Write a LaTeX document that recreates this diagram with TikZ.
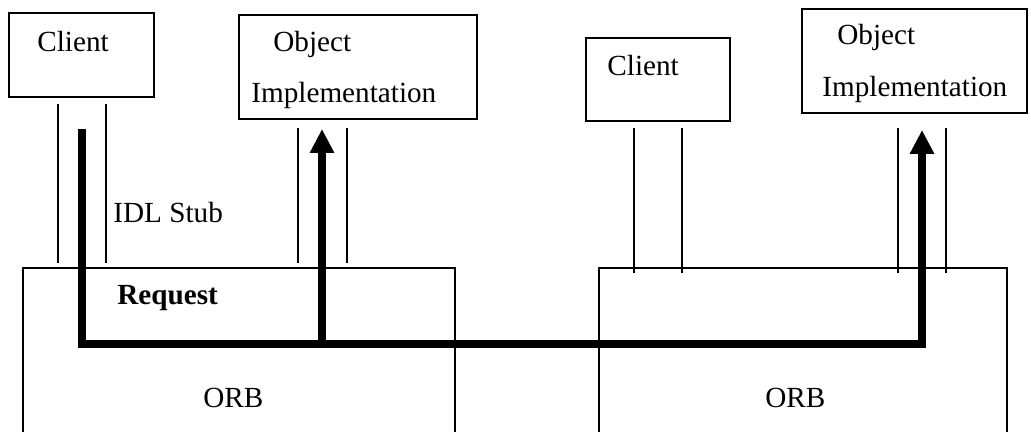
\documentclass[tikz,border=0pt]{standalone}
\usepackage{fontspec}
\setmainfont{Liberation Serif}
\usetikzlibrary{arrows.meta}
\begin{document}
\begin{tikzpicture}[x=0.5pt,y=-0.5pt,
  box/.style={draw,line width=0.65pt},
  wire/.style={line width=0.6pt},
  flow/.style={line width=4pt,line join=miter},
  label/.style={anchor=base west,inner sep=0pt,font=\fontsize{14.6}{17}\selectfont},
  tip/.style={-{Triangle[width=11.5pt,length=12pt]}}]
\useasboundingbox (0,0) rectangle (1031,432);
\clip (0,0) rectangle (1031,432);

% application boxes
\draw[box] (9,13) rectangle (154,97);
\node[label] (c1) at (37,52) {Client};
\draw[box] (239,15) rectangle (477,119);
\node[label] (o1a) at (273,52) {Object};
\node[label] (o1b) at (251,103) {Implementation};

\draw[box] (586,38) rectangle (730,121);
\node[label] (c2) at (607,76) {Client};
\draw[box] (802,9) rectangle (1027,113);
\node[label] (o2a) at (837,45) {Object};
\node[label] (o2b) at (822,97) {Implementation};

% ORB boxes (open at the bottom)
\draw[box] (23,440) -- (23,268) -- (455,268) -- (455,440);
\draw[box] (599,440) -- (599,268) -- (1007,268) -- (1007,440);
\node[label] (orb1) at (203,407) {ORB};
\node[label] (orb2) at (765,407) {ORB};

% interface stubs
\coordinate (s1t) at (58,104);  \coordinate (s1b) at (58,263);
\coordinate (s2t) at (106,104); \coordinate (s2b) at (106,263);
\coordinate (s3t) at (298,128); \coordinate (s3b) at (298,263);
\coordinate (s4t) at (347,128); \coordinate (s4b) at (347,263);
\coordinate (s5t) at (634,128); \coordinate (s5b) at (634,273);
\coordinate (s6t) at (682,128); \coordinate (s6b) at (682,273);
\coordinate (s7t) at (898,128); \coordinate (s7b) at (898,273);
\coordinate (s8t) at (946,128); \coordinate (s8b) at (946,273);
\foreach \i in {1,...,8} \draw[wire] (s\i t) -- (s\i b);

\node[label] (idl) at (113,223) {IDL Stub};
\node[label,font=\fontsize{14.6}{17}\selectfont\bfseries] (req) at (117,305) {Request};

% request path
\coordinate (r0) at (82,129);
\coordinate (r1) at (82,344);
\coordinate (r2) at (322,344);
\coordinate (r3) at (922,344);
\coordinate (a1) at (322,129);
\coordinate (a2) at (922,130);
\draw[flow,tip] (r0) -- (r1) -- (r3) -- (a2);
\draw[flow,tip] (r2) -- (a1);
\end{tikzpicture}
\end{document}
